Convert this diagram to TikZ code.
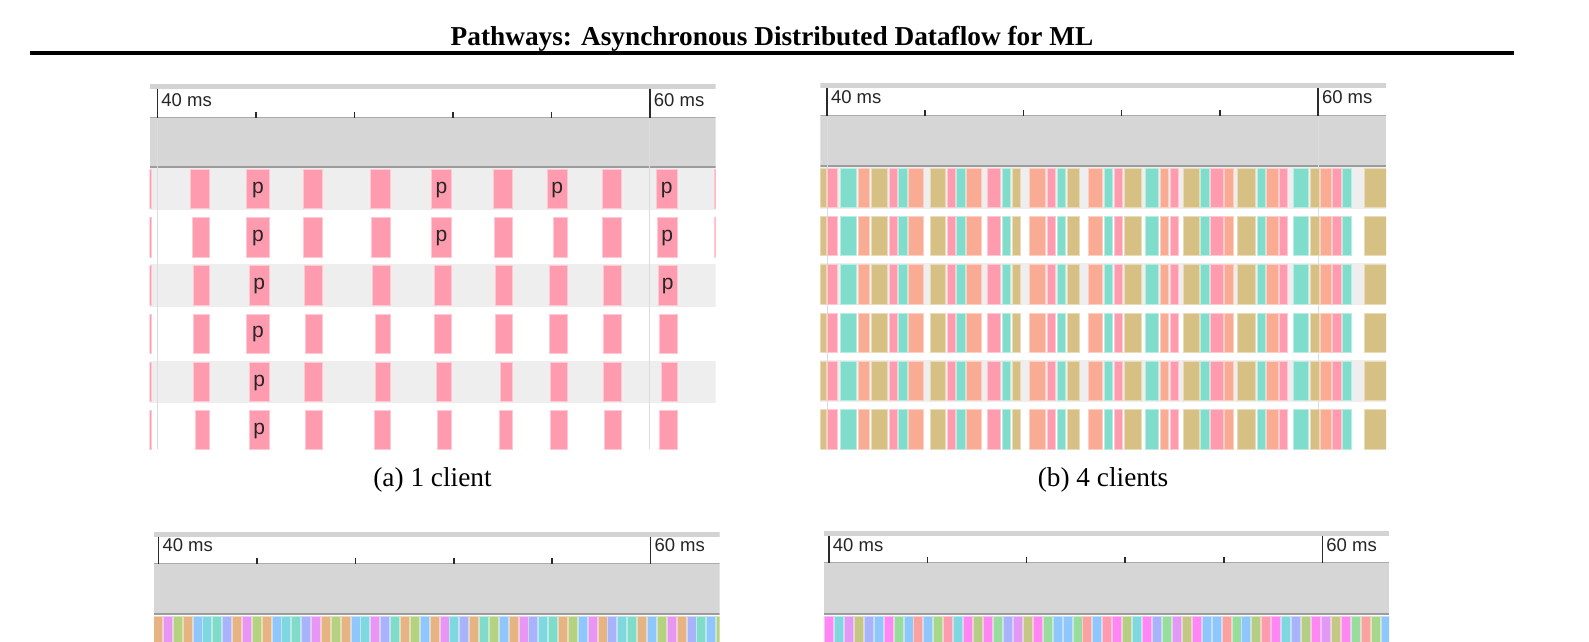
\documentclass[tikz,border=0pt]{standalone}
\usepackage{fontspec}
\setmainfont{Liberation Serif}
\newfontfamily\arialf{Liberation Sans}
\definecolor{tband}{HTML}{D3D3D3}
\definecolor{hdr}{HTML}{D6D6D6}
\definecolor{rline}{HTML}{AAAAAA}
\definecolor{dline}{HTML}{9C9C9C}
\definecolor{rowg}{HTML}{EEEEEE}
\definecolor{vln}{HTML}{DCDCDC}
\definecolor{tickc}{HTML}{2A2A2A}
\definecolor{pk}{HTML}{FF9BAE}
\definecolor{tl}{HTML}{80DDCB}
\definecolor{sm}{HTML}{F9AB93}
\definecolor{tn}{HTML}{D6C083}
\definecolor{or}{HTML}{E5B482}
\definecolor{mg}{HTML}{E797F3}
\definecolor{gr}{HTML}{B4D27F}
\definecolor{bl}{HTML}{8FC6FB}
\definecolor{cy}{HTML}{7FD7DF}
\definecolor{mt}{HTML}{80DCC8}
\definecolor{lv}{HTML}{A9B3FB}
\definecolor{mm}{HTML}{FF87F4}
\definecolor{li}{HTML}{E199F5}
\definecolor{ol}{HTML}{C5C784}
\definecolor{gg}{HTML}{98DD9D}
\definecolor{sa}{HTML}{F9A29F}
\definecolor{lg}{HTML}{A9D789}
\definecolor{og}{HTML}{B5CE84}
\tikzset{
  bar/.style={fill=#1, draw=#1!55!white, line width=0.6pt},
  rulerlabel/.style={anchor=base west, inner sep=0pt, text=black!85,
    font=\arialf\fontsize{18.5}{20}\selectfont},
  plabel/.style={anchor=base, inner sep=0pt, text=black!85,
    font=\arialf\fontsize{21}{22}\selectfont},
  majortick/.style={draw=tickc, line width=1.7pt},
  minortick/.style={draw=tickc, line width=1.6pt},
  vline/.style={draw=vln, line width=0.9pt},
  captext/.style={anchor=base, inner sep=0pt, font=\fontsize{27.3}{30}\selectfont},
}
% #1 L, #2 R, #3 top band top, #4 ruler bottom line, #5 gray bottom, #6 t0, #7 dt, #8 label baseline, #9 name prefix
\newcommand\mkheader[9]{%
  \fill[tband] (#1,#3) rectangle (#2,#3+5);
  \fill[hdr] (#1,#4) rectangle (#2,#5);
  \draw[rline, line width=1.4pt] (#1,#4) -- (#2,#4);
  \fill[dline] (#1,#5) rectangle (#2,#5+2.3);
  \foreach \k in {1,...,4} {\draw[minortick] (#6+\k*#7,#4-5.5) -- (#6+\k*#7,#4);}
  \draw[majortick] (#6,#3+5) -- (#6,#4);
  \draw[majortick] (#6+5*#7,#3+5) -- (#6+5*#7,#4);
  \node[rulerlabel] (#9l40) at (#6+3.8,#8) {40 ms};
  \node[rulerlabel] (#9l60) at (#6+5*#7+3.8,#8) {60 ms};
}
\begin{document}
\begin{tikzpicture}[x=1pt,y=-1pt]
\useasboundingbox (0,0) rectangle (1589,641);
\fill[white] (0,0) rectangle (1589,641);

% title and rule
\node[anchor=base, inner sep=0pt, font=\bfseries\fontsize{27.3}{30}\selectfont] (title) at (772,45.5)
  {Pathways: Asynchronous Distributed Dataflow for ML};
\draw[line width=3.2pt] (30,53) -- (1514,53);

% ---------- panel (a) ----------
\begin{scope}
\clip (149.5,83.5) rectangle (715.5,449);
\mkheader{149.5}{715.5}{83.5}{117.5}{165.5}{157.4}{98.5}{106.5}{a}
\foreach \r in {1,3,5} {\pgfmathsetmacro\yt{169.2+(\r-1)*48.2}
  \fill[rowg] (149.5,\yt-1.5) rectangle (715.5,\yt+41);}
\draw[vline] (157.4,118.5) -- (157.4,449);
\draw[vline] (649.9,118.5) -- (649.9,449);
\foreach \r/\bars in {
 1/{148/151.1/0,190.7/208.8/0,246.2/269.5/1,303.5/322.4/0,370.1/390.1/0,431.2/451.5/1,493.3/512.6/0,547/567.3/1,602.1/621/0,656.1/677.5/1,714.6/717/0},
 2/{148/151.1/0,191.8/208.8/0,246.2/269.5/1,303.5/322.4/0,370.9/390.1/0,431.5/451.5/1,494.4/512.6/0,553.6/567.3/0,602.5/621/0,656.8/677.5/1,714.6/717/0},
 3/{148/151.1/0,192.9/208.8/0,248.8/269.5/1,304.6/322.4/0,372/390.1/0,434.1/451.5/0,494.8/512.6/0,549.2/567.3/0,603.5/621/0,657.9/677.5/1},
 4/{148/151.1/0,193.6/208.8/0,246.5/269.5/1,305.4/322.4/0,374.9/390.1/0,434.1/451.5/0,495.5/512.6/0,549.2/567.3/0,603.5/621/0,659/677.5/0},
 5/{148/151.1/0,193.3/208.8/0,249.1/269.5/1,304.6/322.4/0,374.9/390.1/0,436/451.5/0,500/512.6/0,549.9/567.3/0,603.5/621/0,660.9/677.5/0},
 6/{148/151.1/0,195.5/208.8/0,248.8/269.5/1,305.4/322.4/0,374.2/390.1/0,437.1/451.5/0,498.9/512.6/0,549.9/567.3/0,604.3/621/0,659/677.5/0}} {
  \pgfmathsetmacro\yt{169.2+(\r-1)*48.2}
  \foreach \xa/\xb/\pp [count=\i] in \bars {
    \path[bar=pk] (\xa,\yt) rectangle (\xb,\yt+39.5);
    \ifnum\pp=1 \node[plabel] (pa\r x\i) at ({(\xa+\xb)/2},\yt+24) {p};\fi
  }
}
\end{scope}
\node[captext] (capa) at (432.5,486) {(a) 1 client};

% ---------- panel (b) ----------
\begin{scope}
\clip (820.3,83) rectangle (1386,449);
\mkheader{820.3}{1386}{83}{115.5}{165}{827}{98.2}{103.3}{b}
\foreach \r in {1,3,5} {\pgfmathsetmacro\yt{167.8+(\r-1)*48.35}
  \fill[rowg] (820.3,\yt-1.2) rectangle (1386,\yt+40.8);}
\draw[vline] (827,116) -- (827,449);
\draw[vline] (1318,116) -- (1318,449);
\foreach \r in {1,...,6} {
  \pgfmathsetmacro\yt{167.8+(\r-1)*48.35}
  \foreach \xa/\xb/\c in {820.3/825.9/tn, 827/837.7/pk, 840.7/856.6/tl, 858.5/869.6/sm, 871.4/886.9/tn, 888.8/896.9/pk, 898.4/906.9/tl, 908.4/923.2/sm, 929.9/945/tn, 946.9/955/pk, 956.5/965.4/tl, 966.5/981.3/sm, 987.2/1000.5/pk, 1002/1010.5/tl, 1012/1020.5/tn, 1029.7/1045.3/sm, 1047.1/1055.3/pk, 1057.1/1065.6/tl, 1067.1/1078.9/tn, 1087.8/1102.3/sm, 1104.1/1112.2/tl, 1114.1/1122.6/pk, 1124.1/1141.1/tn, 1145.2/1158.5/tl, 1160.3/1168.5/sm, 1170/1178.5/pk, 1182.9/1199.2/tn, 1200.7/1209.2/tl, 1210.7/1222.9/pk, 1224/1232.9/sm, 1237.3/1255/tn, 1256.9/1265/tl, 1266.5/1278/sm, 1279.5/1287.6/pk, 1293.2/1308/tl, 1309.8/1319/tn, 1320.5/1331.3/sm, 1332.7/1341.2/pk, 1342.7/1351.2/tl, 1364.2/1388/tn} {
    \path[bar=\c] (\xa,\yt) rectangle (\xb,\yt+39.5);
  }
}
\end{scope}
\node[captext] (capb) at (1103,486) {(b) 4 clients};

% ---------- panel (c) ----------
\begin{scope}
\clip (154,531.5) rectangle (719.5,641);
\mkheader{154}{719.5}{531.5}{563.5}{613}{158.5}{98.4}{551.5}{c}
\foreach \c [count=\i] in {or,mg,gr,or,bl,cy,mt,lv,or,mg,gr,or,bl,cy,mt,lv,mg,or,gr,or,bl,cy,mg,lv,mt,or,gr,bl,or,mg,cy,lv,or,mt,gr,bl,or,mg,lv,cy,mt,or,gr,bl,mg,or,lv,cy,mt,or,bl,gr,mg,or,lv,mt,bl,gr} {
  \pgfmathsetmacro\xa{153.3+(\i-1)*9.88}
  \path[bar=\c] (\xa,616.5) rectangle (\xa+9.0,642);
}
\end{scope}

% ---------- panel (d) ----------
\begin{scope}
\clip (824,531) rectangle (1389,641);
\mkheader{824}{1389}{531}{562.5}{612.7}{828.9}{98.7}{551}{d}
\foreach \c [count=\i] in {mm,cy,li,ol,lv,bl,mm,gg,bl,sa,bl,lg,pk,cy,mm,og,mm,gg,lv,li,ol,mm,gg,bl,bl,gg,sa,bl,pk,mm,og,cy,mm,lv,gg,li,ol,mm,bl,bl,sa,gg,bl,og,pk,mm,cy,lv,og,mm,li,ol,mm,gg,sa,lg,bl} {
  \pgfmathsetmacro\xa{824.3+(\i-1)*9.94}
  \path[bar=\c] (\xa,616) rectangle (\xa+9.0,642);
}
\end{scope}
\end{tikzpicture}
\end{document}
